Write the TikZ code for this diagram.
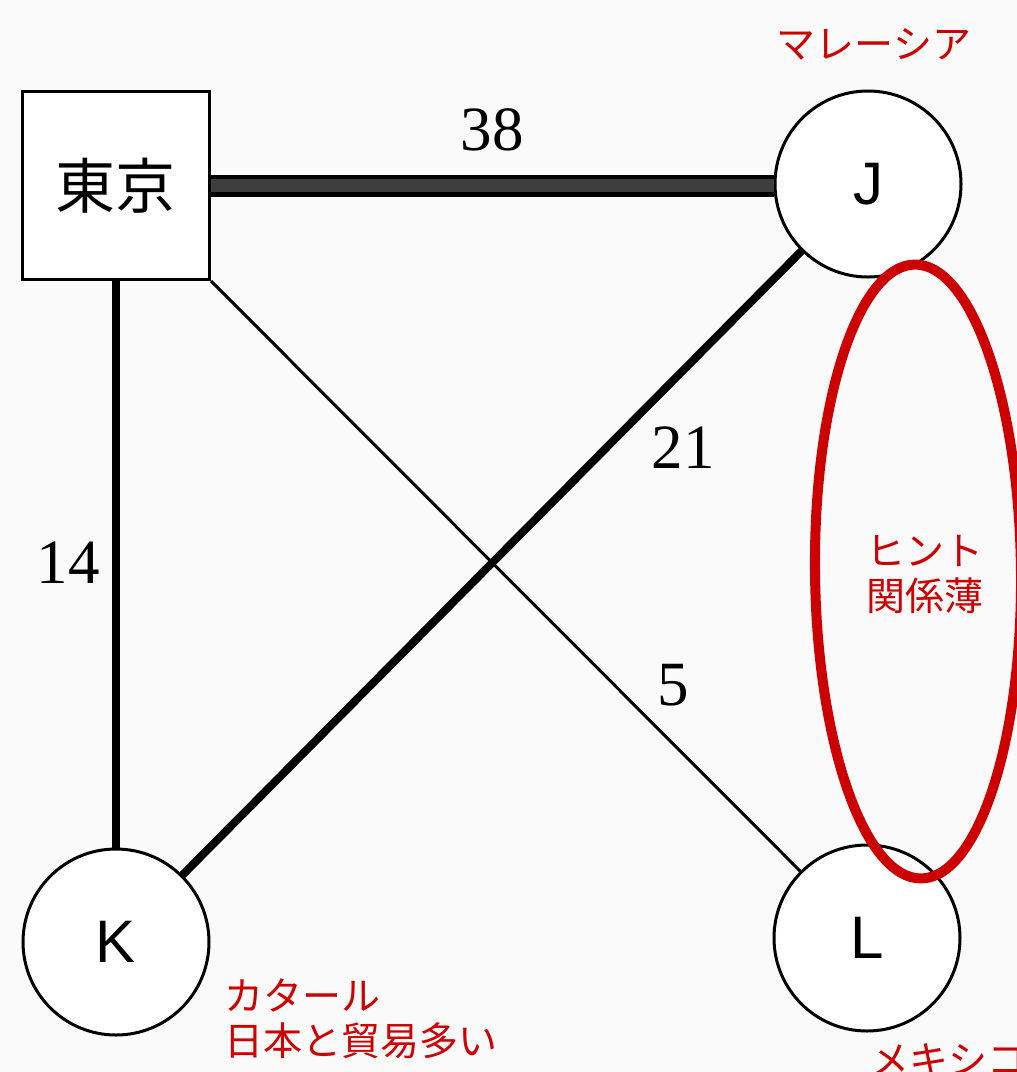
\documentclass[tikz,border=0pt]{standalone}
\usepackage{fontspec}
\usetikzlibrary{shapes.geometric}
\setmainfont{Liberation Serif}
\newfontfamily\cjkfont{Noto Sans CJK JP}
\newfontfamily\sansletters{Liberation Sans}
\definecolor{redink}{RGB}{204,0,0}
\definecolor{paper}{RGB}{250,250,250}
\definecolor{bargray}{RGB}{62,62,62}
\begin{document}
\begin{tikzpicture}[x=1pt,y=-1pt,
  citycircle/.style={circle,draw=black,fill=white,line width=3pt,minimum size=186pt,inner sep=0pt,
    font=\sansletters\fontsize{60}{60}\selectfont},
  citybox/.style={rectangle,draw=black,fill=white,line width=3pt,minimum width=187pt,minimum height=188pt,inner sep=0pt,
    font=\cjkfont\fontsize{60}{60}\selectfont},
  weight/.style={font=\fontsize{63}{63}\selectfont,inner sep=0pt},
  note/.style={text=redink,inner sep=0pt,font=\cjkfont\fontsize{39}{45}\selectfont,align=left},
  link/.style={draw=black,line cap=butt}
]
\useasboundingbox (0,0) rectangle (1017,1072);
\fill[paper] (0,0) rectangle (1017,1072);
\clip (0,0) rectangle (1017,1072);

% nodes
\node[citybox] (tokyo) at (116,185.5) {東京};
\node[citycircle] (J) at (868,184) {J};
\node[citycircle] (K) at (116,942) {K};
\node[citycircle] (L) at (867,938) {L};

% connectors
\draw[link,line width=22pt] (tokyo.east) -- (J.west |- tokyo.east);
\draw[bargray,line width=13pt] (tokyo.east) -- (J.west |- tokyo.east);
\draw[link,line width=8.5pt] (tokyo.south) -- (K.north);
\draw[link,line width=8pt] (J) -- (K);
\draw[link,line width=3pt] (tokyo.south east) -- (L);

% weights
\node[weight] (w38) at (492,130) {38};
\node[weight] (w21) at (683,448) {21};
\node[weight] (w14) at (68,563) {14};
\node[weight] (w5) at (673,685) {5};

% red annotations
\node[draw=redink,line width=10pt,ellipse,minimum width=206pt,minimum height=614pt,inner sep=0pt,rotate=0.6] (hintoval) at (918,571.5) {};
\node[note] (malaysia) at (874,44) {マレーシア};
\node[note,anchor=west] (hint) at (866,574) {ヒント\\関係薄};
\node[note,anchor=west] (qatar) at (224,1019) {カタール\\日本と貿易多い};
\node[note,anchor=west] (mexico) at (870,1060) {メキシコ};
\end{tikzpicture}
\end{document}
